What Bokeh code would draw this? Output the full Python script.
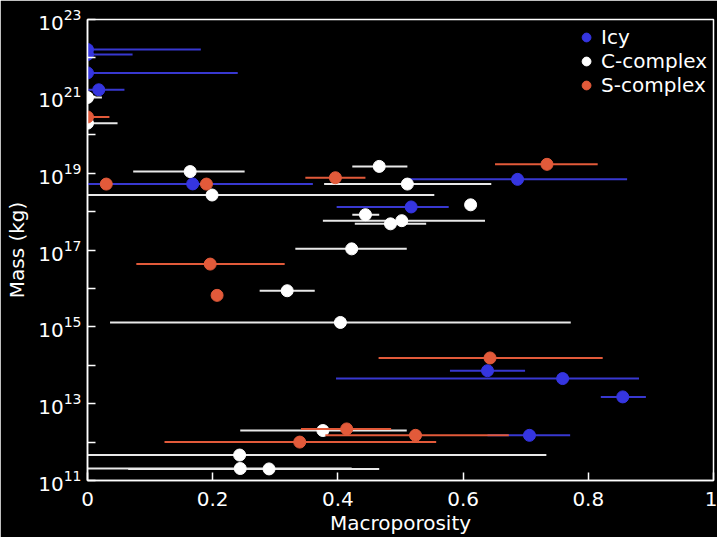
from bokeh.plotting import figure
from bokeh.models import FixedTicker, ColumnDataSource, Legend, LegendItem
from bokeh.embed import file_html
from bokeh.resources import INLINE

# ---- data ----
icy_x    = [0.0, 0.0, 0.0, 0.018, 0.168, 0.687, 0.517, 0.639, 0.759, 0.855, 0.706]
icy_lo   = [-0.18, -0.07, -0.24, -0.024, -0.02, 0.513, 0.398, 0.579, 0.397, 0.820, 0.639]
icy_hi   = [0.181, 0.072, 0.240, 0.059, 0.360, 0.862, 0.577, 0.699, 0.881, 0.892, 0.771]
icy_mass = [1.66e22, 1.23e22, 4.07e21, 1.48e21, 5.25e18, 6.9e18, 1.32e18, 7.2e13, 4.5e13, 1.5e13, 1.5e12]

c_x    = [0.0, 0.0, 0.164, 0.466, 0.511, 0.199, 0.612, 0.444, 0.502, 0.484, 0.422, 0.319, 0.404, 0.376, 0.243, 0.244, 0.290]
c_lo   = [-0.02, -0.05, 0.073, 0.423, 0.378, -0.15, None, 0.423, 0.376, 0.427, 0.332, 0.275, 0.036, 0.244, -0.2, -0.05, 0.065]
c_hi   = [0.023, 0.048, 0.251, 0.511, 0.645, 0.554, None, 0.466, 0.635, 0.541, 0.510, 0.363, 0.772, 0.510, 0.733, 0.422, 0.466]
c_mass = [9.3e20, 2.0e20, 1.1e19, 1.5e19, 5.2e18, 2.7e18, 1.5e18, 8.3e17, 5.8e17, 4.8e17, 1.07e17, 8.7e15, 1.3e15, 2.0e12, 4.6e11, 2.05e11, 2.0e11]

s_x    = [0.0, 0.030, 0.190, 0.396, 0.734, 0.196, 0.207, 0.643, 0.414, 0.524, 0.339]
s_lo   = [-0.03, None, None, 0.348, 0.651, 0.078, None, 0.465, 0.341, 0.380, 0.123]
s_hi   = [0.035, None, None, 0.444, 0.815, 0.315, None, 0.823, 0.485, 0.673, 0.557]
s_mass = [2.9e20, 5.2e18, 5.2e18, 7.6e18, 1.7e19, 4.3e16, 6.6e15, 1.55e14, 2.2e12, 1.5e12, 1.0e12]

x_ticks = [0, 0.2, 0.4, 0.6, 0.8, 1]
y_major = [1e11, 1e13, 1e15, 1e17, 1e19, 1e21, 1e23]
y_minor = [1e12, 1e14, 1e16, 1e18, 1e20, 1e22]

BLUE = "#3535e0"
WHITE = "#ffffff"
RED = "#e25a3a"
FONT = "DejaVu Sans"

p = figure(width=717, height=537, output_backend="svg", toolbar_location=None,
           x_range=(0, 1), y_range=(1e11, 1e23), y_axis_type="log",
           background_fill_color="black", border_fill_color="black",
           min_border_left=87, min_border_right=4, min_border_top=19, min_border_bottom=56)
p.grid.visible = False
p.outline_line_color = "white"
p.outline_line_width = 1.5

series = [("Icy", icy_x, icy_lo, icy_hi, icy_mass, BLUE, "#3838d0"),
          ("C-complex", c_x, c_lo, c_hi, c_mass, WHITE, "#e8e8e8"),
          ("S-complex", s_x, s_lo, s_hi, s_mass, RED, RED)]

items = []
for name, xs, lo, hi, ms, col, ecol in series:
    seg = {"x0": [], "x1": [], "y": []}
    for a, b, m in zip(lo, hi, ms):
        if a is not None:
            seg["x0"].append(a); seg["x1"].append(b); seg["y"].append(m)
    p.segment(x0="x0", x1="x1", y0="y", y1="y", source=ColumnDataSource(seg),
              line_color=ecol, line_width=2)
    r = p.scatter(x=xs, y=ms, size=12, marker="circle", fill_color=col, line_color=col)
    items.append(LegendItem(label=name, renderers=[r]))

legend = Legend(items=items, location="top_right", background_fill_color="black",
                border_line_color=None, label_text_color="white",
                label_text_font=FONT, label_text_font_size="20px",
                glyph_width=22, glyph_height=22, label_height=22, spacing=0,
                padding=5, margin=6, label_standoff=4)
p.add_layout(legend)

for ax in [p.xaxis[0], p.yaxis[0]]:
    ax.axis_line_color = "white"
    ax.axis_line_width = 1.5
    ax.major_tick_line_color = "white"
    ax.major_tick_line_width = 1.5
    ax.major_tick_in = 8
    ax.major_tick_out = 0
    ax.minor_tick_line_color = "white"
    ax.minor_tick_line_width = 1.5
    ax.minor_tick_in = 8
    ax.minor_tick_out = 0
    ax.major_label_text_color = "white"
    ax.major_label_text_font = FONT
    ax.major_label_text_font_size = "20px"
    ax.axis_label_text_color = "white"
    ax.axis_label_text_font = FONT
    ax.axis_label_text_font_size = "20px"
    ax.axis_label_text_font_style = "normal"

p.xaxis.ticker = FixedTicker(ticks=x_ticks)
p.xaxis.minor_tick_line_color = None
p.xaxis.major_label_overrides = {0: "0", 0.2: "0.2", 0.4: "0.4", 0.6: "0.6", 0.8: "0.8", 1: "1"}
p.yaxis.ticker = FixedTicker(ticks=y_major, minor_ticks=y_minor)
p.xaxis.axis_label = "Macroporosity"
p.yaxis.axis_label = "Mass (kg)"
p.xaxis.major_label_standoff = 11
p.xaxis.axis_label_standoff = 2
p.yaxis.major_label_standoff = 6
p.yaxis.axis_label_standoff = 6

open("out.html", "w").write(file_html(p, INLINE))
